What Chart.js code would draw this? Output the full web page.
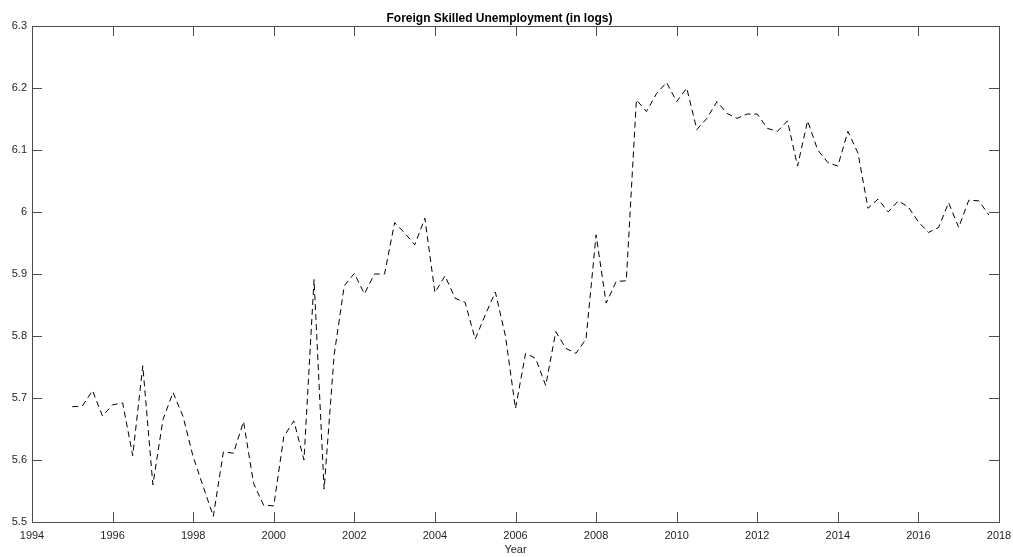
<!DOCTYPE html>
<html>
<head>
<meta charset="utf-8">
<script src="https://cdn.jsdelivr.net/npm/chart.js@4/dist/chart.umd.min.js"></script>
<style>
    html, body { margin: 0; padding: 0; background: #ffffff; }
    #wrap { width: 1013px; height: 557px; position: relative; }
</style>
</head>
<body>
<div id="wrap"><canvas id="grafica" width="1013" height="557"></canvas></div>
<script>
// quarterly observations, 1995Q1 .. 2017Q4
const anioInicio = 1995;
const valores = [
    5.686, 5.687, 5.712, 5.671,
    5.689, 5.692, 5.607, 5.752,
    5.560, 5.665, 5.709, 5.670,
    5.605, 5.557, 5.509, 5.613,
    5.611, 5.662, 5.562, 5.527,
    5.526, 5.638, 5.663, 5.600,
    5.891, 5.553, 5.770, 5.881,
    5.901, 5.868, 5.900, 5.900,
    5.983, 5.966, 5.947, 5.990,
    5.870, 5.897, 5.861, 5.854,
    5.795, 5.834, 5.871, 5.800,
    5.683, 5.772, 5.764, 5.720,
    5.807, 5.780, 5.772, 5.795,
    5.963, 5.853, 5.888, 5.889,
    6.181, 6.162, 6.191, 6.209,
    6.178, 6.200, 6.133, 6.151,
    6.178, 6.159, 6.151, 6.158,
    6.158, 6.135, 6.130, 6.147,
    6.074, 6.147, 6.100, 6.080,
    6.074, 6.130, 6.095, 6.006,
    6.021, 6.000, 6.018, 6.008,
    5.984, 5.967, 5.975, 6.015,
    5.975, 6.019, 6.018, 5.995
];
const fechas = valores.map((v, i) => anioInicio + i / 4);
const ticksX = [1994, 1996, 1998, 2000, 2002, 2004, 2006, 2008, 2010, 2012, 2014, 2016, 2018];
const ticksY = [5.5, 5.6, 5.7, 5.8, 5.9, 6, 6.1, 6.2, 6.3];

const colorEje = '#4d4d4d';
const colorTexto = '#262626';
const fuente = 'Liberation Sans, Arial, Helvetica, sans-serif';

// MATLAB style box with inward ticks on all four sides
const cajaEjes = {
    id: 'cajaEjes',
    afterDatasetsDraw(chart) {
        const { ctx, chartArea: a, scales } = chart;
        const largo = 10;
        ctx.save();
        ctx.strokeStyle = colorEje;
        ctx.lineWidth = 1;
        ctx.beginPath();
        scales.x.ticks.forEach(t => {
            const px = Math.round(scales.x.getPixelForValue(t.value)) + 0.5;
            ctx.moveTo(px, a.bottom);
            ctx.lineTo(px, a.bottom - largo);
            ctx.moveTo(px, a.top);
            ctx.lineTo(px, a.top + largo);
        });
        scales.y.ticks.forEach(t => {
            const py = Math.round(scales.y.getPixelForValue(t.value)) + 0.5;
            ctx.moveTo(a.left, py);
            ctx.lineTo(a.left + largo, py);
            ctx.moveTo(a.right, py);
            ctx.lineTo(a.right - largo, py);
        });
        ctx.stroke();
        ctx.strokeRect(Math.round(a.left) + 0.5, Math.round(a.top) + 0.5,
            Math.round(a.right - a.left), Math.round(a.bottom - a.top));
        ctx.restore();
    }
};

new Chart(document.getElementById('grafica'), {
    type: 'line',
    data: {
        datasets: [{
            data: fechas.map((x, i) => ({ x: x, y: valores[i] })),
            borderColor: '#000000',
            borderWidth: 1,
            borderDash: [6, 4],
            pointRadius: 0,
            tension: 0,
            fill: false
        }]
    },
    options: {
        responsive: false,
        animation: false,
        devicePixelRatio: 1,
        layout: { padding: { top: 0, right: 14, left: 0, bottom: 0 } },
        plugins: {
            legend: { display: false },
            tooltip: { enabled: false },
            title: {
                display: true,
                text: 'Foreign Skilled Unemployment (in logs)',
                color: '#000000',
                font: { family: fuente, size: 12, weight: 'bold' },
                padding: { top: 11, bottom: 0.6 }
            }
        },
        scales: {
            x: {
                type: 'linear',
                min: 1994,
                max: 2018,
                afterBuildTicks: s => { s.ticks = ticksX.map(v => ({ value: v })); },
                afterFit: s => {
                    s.height = 35;
                    s.paddingLeft = 0;
                    s.paddingRight = 0;
                },
                grid: { display: false, drawTicks: false },
                border: { display: false },
                ticks: {
                    color: colorTexto,
                    padding: 7,
                    maxRotation: 0,
                    autoSkip: false,
                    font: { family: fuente, size: 11 },
                    callback: v => String(v)
                },
                title: {
                    display: true,
                    text: 'Year',
                    color: colorTexto,
                    font: { family: fuente, size: 11 },
                    padding: { top: 0, bottom: 0 }
                }
            },
            y: {
                min: 5.5,
                max: 6.3,
                afterBuildTicks: s => { s.ticks = ticksY.map(v => ({ value: v })); },
                afterFit: s => {
                    s.width = 32;
                    s.paddingTop = 0;
                    s.paddingBottom = 0;
                },
                grid: { display: false, drawTicks: false },
                border: { display: false },
                ticks: {
                    color: colorTexto,
                    padding: 5,
                    autoSkip: false,
                    font: { family: fuente, size: 11 },
                    callback: v => String(Math.round(v * 10) / 10)
                }
            }
        }
    },
    plugins: [cajaEjes]
});
</script>
</body>
</html>
